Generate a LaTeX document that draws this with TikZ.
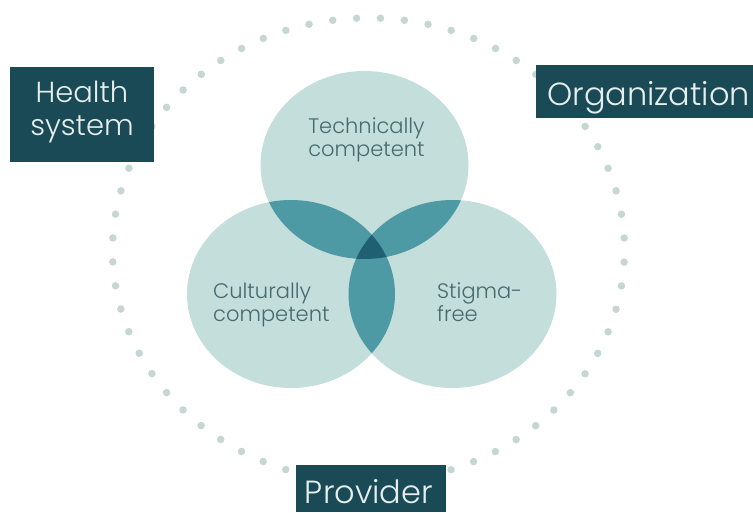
\documentclass[tikz,border=0pt]{standalone}
\usepackage{fontspec}
\IfFontExistsTF{Poppins Light}{\newfontfamily\geo{Poppins Light}}{%
  \IfFontExistsTF{Poppins-Light}{\newfontfamily\geo{Poppins-Light}}{%
    \IfFontExistsTF{Poppins ExtraLight}{\newfontfamily\geo{Poppins ExtraLight}}{%
      \newfontfamily\geo{Poppins}}}}
\definecolor{vlight}{HTML}{C3DEDB}
\definecolor{vmid}{HTML}{4E9AA4}
\definecolor{vdark}{HTML}{1F6172}
\definecolor{boxcol}{HTML}{1B4A57}
\definecolor{boxtext}{HTML}{E6EEEE}
\definecolor{labcol}{HTML}{466A6E}
\definecolor{dotcol}{HTML}{C6D6D4}
\begin{document}
\begin{tikzpicture}[x=1pt,y=-1pt,
  ell/.style={x radius=104pt, y radius=94pt},
  vlabel/.style={inner sep=0pt, text=labcol, font=\geo\fontsize{21}{23}\selectfont},
  tagbox/.style={fill=boxcol, inner sep=0pt},
  tagtext/.style={text=boxtext, inner sep=0pt}]
\useasboundingbox (0,0) rectangle (753,512);
\fill[white] (0,0) rectangle (753,512);
% dotted ring
\draw[dotcol, line width=7.5pt, line cap=round, dash pattern=on 0pt off 23.97pt, dash phase=11.98pt]
  (368.5,250) ellipse [x radius=256pt, y radius=232pt];
% venn
\coordinate (T) at (364.5,165);
\coordinate (L) at (291,294);
\coordinate (R) at (452.5,294);
\fill[vlight] (T) ellipse [ell];
\fill[vlight] (L) ellipse [ell];
\fill[vlight] (R) ellipse [ell];
\begin{scope}
  \clip (T) ellipse [ell];
  \fill[vmid] (L) ellipse [ell];
  \fill[vmid] (R) ellipse [ell];
\end{scope}
\begin{scope}
  \clip (L) ellipse [ell];
  \fill[vmid] (R) ellipse [ell];
\end{scope}
\begin{scope}
  \clip (T) ellipse [ell];
  \clip (L) ellipse [ell];
  \fill[vdark] (R) ellipse [ell];
\end{scope}
% labels
\node[vlabel, align=center] (tech) at (366.5,140) {Technically\\competent};
\node[vlabel, align=left, anchor=west] (cult) at (213,305) {Culturally\\competent};
\node[vlabel, align=left, anchor=west] (stig) at (437,302) {Stigma-\\free};
% boxes
\node[tagbox, minimum width=144pt, minimum height=95pt] (health) at (82,114.5) {};
\node[tagtext, align=center, font=\geo\fontsize{29}{33}\selectfont] (healthtxt)
  at ([yshift=3pt]health.center) {Health\\system};
\node[tagbox, anchor=west, minimum width=217pt, minimum height=53pt] (org) at (536,91.5) {};
\node[tagtext, anchor=base west, font=\geo\fontsize{32}{36}\selectfont] (orgtxt)
  at (547,105) {Organization};
\node[tagbox, anchor=north, minimum width=150pt, minimum height=47pt] (prov) at (371,465) {};
\node[tagtext, anchor=base, font=\geo\fontsize{32}{36}\selectfont] (provtxt)
  at (369,503) {Provider};
\end{tikzpicture}
\end{document}
